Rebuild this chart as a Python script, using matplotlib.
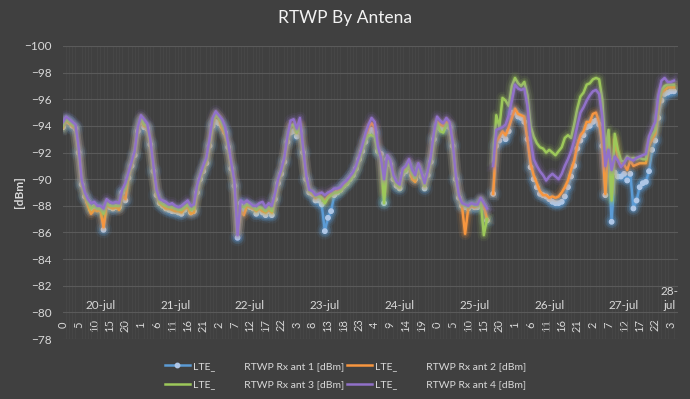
import numpy as np
import matplotlib.pyplot as plt
import matplotlib.patheffects as pe
from matplotlib.lines import Line2D
from matplotlib.transforms import blended_transform_factory

plt.rcParams['font.family'] = ['Lato', 'DejaVu Sans']

nan = np.nan

# hourly samples, 20-jul 00h .. 28-jul 04h
hours = np.arange(197)
day_names = ['20-jul', '21-jul', '22-jul', '23-jul', '24-jul',
             '25-jul', '26-jul', '27-jul', '28-\njul']

ant1 = [
    # 20-jul
    -93.9, -94.4, -94.3, -94.0, -93.8, -92.0, -89.6, -88.7, -88.3, -87.7, -87.9, -87.8,
    -87.7, -86.2, -88.0, -87.9, -87.8, -87.9, -87.9, -89.0, -88.4, -90.1, -91.0, -91.8,
    # 21-jul
    -93.6, -94.3, -93.9, -93.8, -92.6, -90.6, -88.8, -88.2, -88.0, -87.8, -87.7, -87.6,
    -87.6, -87.5, -87.4, -87.7, -87.9, -87.5, -87.6, -89.0, -90.0, -90.6, -91.2, -92.5,
    # 22-jul
    -94.0, -94.3, -94.2, -94.0, -93.5, -92.4, -90.8, -89.5, -85.6, -88.2, -87.7, -88.0,
    -87.9, -87.8, -87.4, -87.7, -87.5, -87.3, -87.6, -87.3, -88.5, -89.7, -90.4, -91.3,
    # 23-jul
    -92.8, -93.5, -93.6, -93.2, -93.6, -92.0, -90.0, -89.0, -88.9, -88.4, -88.4, -88.1,
    -86.1, -87.1, -87.6, -88.8, -89.0, -89.2, -89.5, -89.7, -90.0, -90.3, -90.8, -91.5,
    # 24-jul
    -92.1, -92.8, -93.4, -93.7, -93.5, -92.1, -91.9, -88.2, -91.5, -91.1, -90.0, -89.5,
    -89.3, -90.4, -90.6, -91.0, -90.3, -90.0, -90.8, -90.2, -89.3, -90.3, -91.3, -93.0,
    # 25-jul
    -94.0, -93.8, -93.8, -94.0, -93.9, -92.5, -90.0, -88.6, -88.0, -87.9, -87.8, -88.0,
    -87.9, -87.9, -88.3, -87.9, -86.9, nan, -88.9, -92.5, -92.9, -93.3, -93.0, -93.6,
    # 26-jul
    -95.0, -95.0, -94.7, -94.6, -94.3, -93.0, -90.9, -90.0, -89.4, -88.9, -88.8, -88.7,
    -88.5, -88.3, -88.2, -88.2, -88.3, -88.7, -89.4, -90.2, -91.0, -92.3, -92.9, -93.3,
    # 27-jul
    -93.9, -94.0, -94.3, -94.4, -94.1, -92.5, -88.8, -91.5, -86.8, -90.5, -90.2, -90.2,
    -90.4, -89.9, -90.4, -87.8, -88.4, -89.4, -89.7, -89.8, -90.6, -92.2, -92.9, -94.6,
    # 28-jul
    -95.9, -96.4, -96.5, -96.6, -96.6,
]

ant2 = [
    -93.9, -94.4, -94.2, -94.0, -93.8, -92.1, -89.7, -88.7, -88.0, -87.4, -87.7, -87.6,
    -87.7, -86.4, -88.1, -87.9, -87.8, -87.9, -87.7, -88.8, -88.5, -90.2, -91.1, -91.9,
    -93.7, -94.5, -94.0, -93.9, -92.7, -90.7, -88.9, -88.2, -88.0, -87.8, -87.8, -87.7,
    -87.6, -87.6, -87.5, -87.8, -87.9, -87.4, -87.5, -89.1, -90.1, -90.7, -91.3, -92.6,
    -94.2, -94.8, -94.6, -93.8, -93.3, -92.5, -90.9, -89.6, -86.0, -87.6, -87.3, -88.0,
    -87.9, -87.8, -87.6, -87.8, -87.6, -87.5, -87.7, -87.5, -88.6, -89.8, -90.5, -91.4,
    -92.9, -94.0, -94.1, -93.5, -94.1, -92.1, -90.1, -89.1, -88.9, -88.6, -88.8, -88.6,
    -88.4, -88.7, -88.9, -89.0, -89.1, -89.2, -89.5, -89.7, -90.0, -90.3, -90.8, -91.5,
    -92.3, -93.1, -93.9, -94.2, -93.9, -92.3, -91.8, -89.0, -91.6, -91.2, -90.1, -89.6,
    -89.4, -90.6, -90.7, -91.2, -90.0, -89.8, -91.0, -90.3, -89.5, -90.4, -91.5, -93.2,
    -94.3, -94.1, -94.0, -94.3, -94.1, -92.6, -90.1, -88.7, -88.0, -85.9, -87.8, -88.0,
    -87.9, -88.0, -88.4, -88.0, -87.0, nan, -88.9, -92.8, -93.2, -93.6, -93.3, -93.9,
    -94.6, -95.3, -94.9, -94.8, -94.7, -93.0, -91.2, -90.3, -89.7, -89.1, -88.8, -88.8,
    -88.6, -88.7, -88.6, -88.7, -89.0, -89.4, -89.9, -90.7, -91.4, -92.6, -93.3, -93.6,
    -94.3, -94.3, -94.9, -95.0, -94.3, -92.7, -88.9, -93.0, -89.0, -93.0, -91.6, -91.1,
    -91.1, -90.7, -91.4, -91.0, -91.1, -91.2, -91.2, -91.2, -92.5, -93.0, -93.4, -95.2,
    -96.5, -96.7, -96.9, -96.9, -96.9,
]

ant3 = [
    -94.0, -94.5, -94.3, -94.1, -93.9, -92.2, -89.8, -88.8, -88.3, -87.8, -88.0, -87.8,
    -87.8, -87.4, -88.2, -88.0, -88.0, -88.0, -88.0, -89.0, -89.3, -90.3, -91.2, -92.0,
    -93.8, -94.6, -94.1, -94.0, -92.8, -90.8, -89.0, -88.3, -88.1, -88.0, -87.9, -87.9,
    -87.8, -87.7, -87.7, -87.9, -88.1, -87.7, -87.8, -89.2, -90.1, -90.8, -91.4, -92.7,
    -94.3, -94.9, -94.6, -94.2, -93.6, -92.5, -91.0, -89.6, -86.0, -88.0, -87.9, -88.1,
    -88.0, -87.9, -87.7, -87.9, -87.8, -87.6, -87.9, -87.6, -88.7, -89.9, -90.5, -91.5,
    -93.0, -94.0, -94.1, -93.5, -94.0, -92.2, -90.1, -89.1, -89.0, -88.7, -88.7, -88.6,
    -88.2, -88.6, -88.8, -89.0, -89.0, -89.1, -89.4, -89.6, -89.9, -90.2, -90.7, -91.4,
    -92.2, -92.9, -93.3, -93.3, -93.2, -92.0, -91.7, -88.2, -91.5, -91.1, -90.0, -89.6,
    -89.4, -90.5, -90.6, -91.1, -90.4, -90.1, -90.9, -90.3, -89.5, -90.4, -91.4, -93.1,
    -94.2, -93.6, -93.5, -94.1, -94.0, -92.6, -90.1, -88.7, -88.1, -88.0, -87.9, -88.1,
    -88.0, -88.0, -88.5, -85.8, -87.0, nan, -91.4, -94.8, -93.9, -96.1, -95.9, -95.5,
    -97.0, -97.6, -97.2, -97.0, -97.3, -96.3, -94.0, -93.2, -92.7, -92.4, -92.3, -92.0,
    -92.2, -92.0, -91.8, -92.1, -92.4, -93.1, -93.3, -93.1, -94.1, -95.3, -96.2, -96.5,
    -97.1, -97.2, -97.5, -97.6, -97.5, -96.0, -92.2, -93.7, -88.4, -93.4, -92.2, -91.4,
    -91.3, -91.7, -91.5, -91.6, -91.5, -91.6, -91.5, -91.5, -92.9, -93.3, -93.7, -95.7,
    -96.7, -97.0, -97.1, -97.1, -97.1,
]

ant4 = [
    -94.3, -94.7, -94.5, -94.3, -94.1, -92.4, -89.9, -89.0, -88.5, -88.2, -88.3, -88.0,
    -88.0, -87.8, -88.5, -88.3, -88.2, -88.3, -88.2, -89.2, -89.7, -90.5, -91.3, -92.1,
    -93.9, -94.8, -94.5, -94.2, -93.0, -91.0, -89.2, -88.5, -88.4, -88.3, -88.1, -88.2,
    -88.0, -87.9, -88.0, -88.2, -88.4, -88.0, -88.1, -89.5, -90.3, -91.0, -91.6, -93.0,
    -94.6, -95.1, -94.8, -94.5, -93.9, -92.7, -91.2, -89.8, -85.8, -88.4, -88.2, -88.4,
    -88.2, -88.0, -88.0, -88.2, -88.3, -87.9, -88.2, -88.0, -88.9, -90.0, -90.7, -91.6,
    -93.2, -94.4, -94.5, -93.8, -94.6, -92.4, -90.3, -89.2, -89.1, -88.8, -88.9, -89.0,
    -88.8, -89.0, -89.1, -89.3, -89.3, -89.4, -89.7, -89.9, -90.2, -90.5, -91.0, -91.7,
    -92.5, -93.4, -94.1, -94.6, -94.3, -92.5, -91.6, -90.0, -91.8, -91.4, -90.3, -89.8,
    -89.6, -90.8, -91.0, -91.5, -90.7, -90.3, -91.2, -90.5, -89.7, -90.6, -91.7, -93.5,
    -94.7, -94.4, -94.2, -94.6, -94.3, -92.8, -90.3, -88.8, -88.2, -88.1, -88.0, -88.2,
    -88.1, -88.1, -88.6, -88.2, -87.8, nan, -91.0, -93.7, -93.8, -93.9, -94.1, -94.8,
    -95.9, -97.1, -96.8, -96.7, -96.8, -95.5, -93.0, -91.5, -91.0, -90.6, -90.3, -89.9,
    -90.2, -90.4, -90.2, -90.0, -90.4, -91.0, -91.5, -92.1, -92.9, -94.0, -95.0, -95.4,
    -95.9, -96.3, -96.6, -96.7, -96.4, -94.7, -91.0, -92.2, -90.7, -91.7, -91.4, -90.9,
    -91.2, -91.6, -91.5, -91.4, -91.6, -91.7, -91.8, -91.9, -93.2, -93.8, -94.3, -96.3,
    -97.4, -97.6, -97.3, -97.3, -97.4,
]

labels = ['LTE_' + ' ' * 11 + 'RTWP Rx ant %d [dBm]' % i for i in range(1, 5)]
colors = ['#5b9bd5', '#f7963f', '#9dc85a', '#9171c9']

bg = '#404040'
txt = '#d9d9d9'

fig = plt.figure(figsize=(6.9, 3.99), dpi=100, facecolor=bg)
ax = fig.add_axes([63 / 690, 1 - 339 / 399, 615 / 690, 293 / 399])
ax.set_facecolor(bg)

series = [ant1, ant2, ant3, ant4]
for i, (vals, c) in enumerate(zip(series, colors)):
    glow = [pe.Stroke(linewidth=9, foreground=c, alpha=0.08),
            pe.Stroke(linewidth=6, foreground=c, alpha=0.14),
            pe.Stroke(linewidth=3.5, foreground=c, alpha=0.25),
            pe.Normal()]
    if i == 0:
        ax.plot(hours, vals, color=c, lw=1.8, marker='o', markersize=3.2,
                markerfacecolor='#aec6e6', markeredgecolor='#aec6e6',
                zorder=3 + i, path_effects=glow)
    else:
        ax.plot(hours, vals, color=c, lw=1.8, zorder=3 + i, path_effects=glow)

ax.set_xlim(0, 197.3)
ax.set_ylim(-78, -100)
ax.set_yticks(np.arange(-100, -77, 2))
ax.tick_params(axis='y', length=0, pad=8, labelsize=8.5, labelcolor=txt)

# hour labels inside the plot area
ax.set_xticks(hours[::5])
ax.set_xticklabels([str(h % 24) for h in hours[::5]], rotation=90)
ax.tick_params(axis='x', length=0, pad=-10, labelsize=8, labelcolor=txt)
for t in ax.get_xticklabels():
    t.set_va('center')

ax.set_xticks(hours, minor=True)
ax.tick_params(axis='x', which='minor', length=0)
ax.grid(axis='x', which='minor', color='#4a4a4a', lw=0.5, zorder=0)
ax.grid(axis='y', which='major', color='#5a5a5a', lw=0.8, zorder=0)
ax.set_axisbelow(True)
for s in ax.spines.values():
    s.set_visible(False)

trans = blended_transform_factory(ax.transData, ax.transAxes)
day_pos = [12 + 24 * d for d in range(8)] + [194.5]
for pos, name in zip(day_pos, day_names):
    ax.text(pos, 0.095, name, transform=trans, ha='center', va='bottom',
            fontsize=8.5, color=txt, linespacing=1.3)

ax.set_ylabel('[dBm]', color=txt, fontsize=8.5, fontweight='bold')
ax.yaxis.set_label_coords(-0.062, 0.5)

fig.text(0.5, 1 - 18 / 399, 'RTWP By Antena', ha='center', va='center',
         fontsize=12.5, color='#f2f2f2')

handles = [
    Line2D([], [], color=colors[0], lw=1.8, marker='o', markersize=3.2,
           markerfacecolor='#aec6e6', markeredgecolor='#aec6e6'),
    Line2D([], [], color=colors[1], lw=1.8),
    Line2D([], [], color=colors[2], lw=1.8),
    Line2D([], [], color=colors[3], lw=1.8),
]
order = [0, 2, 1, 3]
fig.legend([handles[i] for i in order], [labels[i] for i in order],
           loc='center', bbox_to_anchor=(0.501, 1 - 375.5 / 399), ncol=2,
           frameon=False, fontsize=7.5, labelcolor=txt, handlelength=2.4,
           handletextpad=0.3, columnspacing=0.3, labelspacing=0.85)

fig.savefig('out.png', dpi=100, facecolor=bg)
